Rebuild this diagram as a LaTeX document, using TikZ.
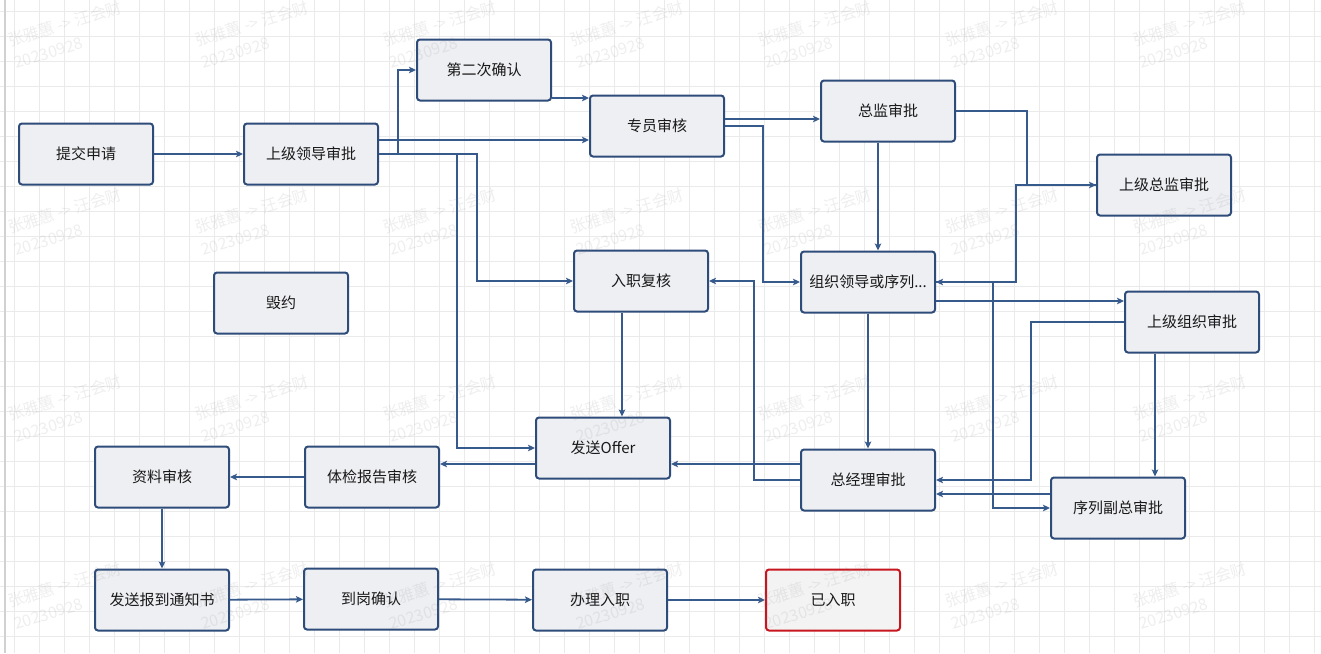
\documentclass[tikz,border=0pt]{standalone}
\usepackage{fontspec}
\setmainfont{Noto Sans CJK SC}
\usetikzlibrary{arrows.meta}
\definecolor{boxline}{HTML}{2E4C7A}
\definecolor{boxfill}{HTML}{EEEFF3}
\definecolor{flowline}{HTML}{375A8C}
\definecolor{endline}{HTML}{C8161E}
\definecolor{endfill}{HTML}{F4F3F4}
\definecolor{gridgray}{HTML}{EAEAEA}

\begin{document}
\begin{tikzpicture}[x=1pt,y=-1pt,
	box/.style={draw=boxline, line width=2pt, fill=boxfill, rounded corners=3pt,
		minimum width=134pt, minimum height=61pt, inner sep=0pt,
		font=\fontsize{15}{18}\selectfont, text=black!90},
	endbox/.style={box, draw=endline, fill=endfill},
	flow/.style={draw=flowline, line width=1.8pt, -{Stealth[length=7pt,width=6.5pt,inset=1.5pt]}},
	gridline/.style={draw=gridgray, line width=0.8pt},
	wm/.style={text=black!50, opacity=0.13, font=\fontsize{16}{18}\selectfont,
		rotate=17, anchor=base west, inner sep=0pt}]
		\useasboundingbox (0,0) rectangle (1321,653);
		\fill[white] (0,0) rectangle (1321,653);
		\foreach \gx in {14,39,...,1314} \draw[gridline] (\gx,0) -- (\gx,653);
		\foreach \gy in {11,36,...,636} \draw[gridline] (0,\gy) -- (1321,\gy);
		\draw[black!18, line width=2pt] (5,0) -- (5,653);

		\node[box] (tjsq) at (86,154) {提交申请};
		\node[box] (sjld) at (311,154) {上级领导审批};
		\node[box] (decqr) at (484,70) {第二次确认};
		\node[box] (zysh) at (657,126) {专员审核};
		\node[box] (zjsp) at (888,111) {总监审批};
		\node[box] (sjzj) at (1164,185) {上级总监审批};
		\node[box] (rzfh) at (641,281) {入职复核};
		\node[box] (zzld) at (868,282) {组织领导或序列...};
		\node[box] (hy) at (281,303) {毁约};
		\node[box] (sjzz) at (1192,322) {上级组织审批};
		\node[box] (offer) at (603,448) {发送Offer};
		\node[box] (zlsh) at (162,477) {资料审核};
		\node[box] (tjbg) at (372,477) {体检报告审核};
		\node[box] (zjl) at (868,480) {总经理审批};
		\node[box] (xlfz) at (1118,508) {序列副总审批};
		\node[box] (fsbd) at (162,600) {发送报到通知书};
		\node[box] (dgqr) at (371,599) {到岗确认};
		\node[box] (blrz) at (600,600) {办理入职};
		\node[endbox] (yrz) at (833,600) {已入职};

		\draw[flow] (tjsq) -- (sjld);
		\draw[flow] (sjld.east) -- ++(19,0) |- (decqr.west);
		\draw[flow] ([yshift=14pt]sjld.east) -- ([yshift=-14pt]zysh.west);
		\draw[flow] ([yshift=-28pt]decqr.east) -- ([yshift=28pt]zysh.west);
		\draw[flow] (sjld.east) -- ++(98,0) |- (rzfh.west);
		\draw[flow] (sjld.east) -- ++(78,0) |- (offer.west);
		\draw[flow] ([yshift=7pt]zysh.east) -- ([yshift=-8pt]zjsp.west);
		\draw[flow] (zysh.east) -- ++(38,0) |- (zzld.west);
		\draw[flow] ([xshift=-10pt]zjsp.south) -- ([xshift=10pt]zzld.north);
		\draw[flow] (zjsp.east) -- ++(71,0) |- (sjzj.west);
		\draw[flow] (sjzj.west) -- ++(-80,0) |- (zzld.east);
		\draw[flow] ([yshift=-19pt]zzld.east) -- ([yshift=21pt]sjzz.west);
		\draw[flow] (sjzz.west) -- ++(-93,0) |- (zjl.east);
		\draw[flow] ([xshift=-37pt]sjzz.south) -- ([xshift=37pt]xlfz.north);
		\draw[flow] ([yshift=14pt]xlfz.west) -- ([yshift=-14pt]zjl.east);
		\draw[flow] (zzld.east) -- ++(57,0) |- (xlfz.west);
		\draw[flow] (zzld.south) -- (zjl.north);
		\draw[flow] ([xshift=-19pt]rzfh.south) -- ([xshift=19pt]offer.north);
		\draw[flow] ([yshift=16pt]zjl.west) -- ([yshift=-16pt]offer.east);
		\draw[flow] (zjl.west) -- ++(-46,0) |- (rzfh.east);
		\draw[flow] ([yshift=-16pt]offer.west) -- ([yshift=13pt]tjbg.east);
		\draw[flow] (tjbg) -- (zlsh);
		\draw[flow] (zlsh) -- (fsbd);
		\draw[flow] (fsbd) -- (dgqr);
		\draw[flow] (dgqr) -- (blrz);
		\draw[flow] (blrz) -- (yrz);

		\foreach \wx [count=\i] in {10,197,385,572,760,947,1135}
		\foreach \wy [count=\j] in {47,234,421,608} {
			\node[wm] (wma\i\j) at (\wx,\wy) {张雅蕙 -> 汪会财};
			\node[wm] (wmb\i\j) at (\wx+6,\wy+22) {20230928};
		}
\end{tikzpicture}
\end{document}
